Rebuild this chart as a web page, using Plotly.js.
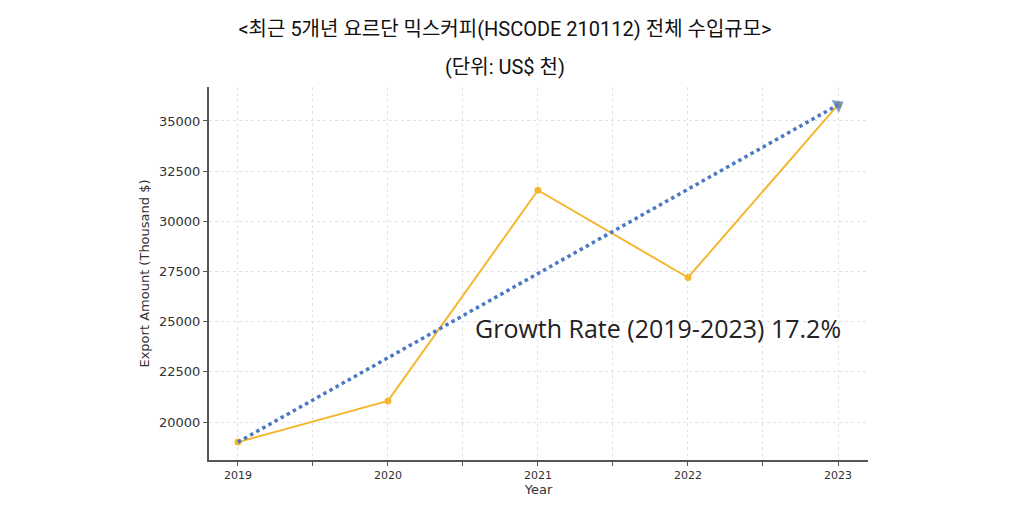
<!DOCTYPE html>
<html>
<head>
<meta charset="utf-8">
<script src="https://cdn.plot.ly/plotly-3.0.1.min.js"></script>
<style>html,body{margin:0;padding:0;background:#fff;}#chart{width:1030px;height:519px;}</style>
</head>
<body>
<div id="chart"></div>
<script>
const years = [2019, 2020, 2021, 2022, 2023];
const values = [19000, 21050, 31550, 27200, 35800];
const trendYears = [2019, 2023];
const trendValues = [19000, 35800];
const yTicks = [20000, 22500, 25000, 27500, 30000, 32500, 35000];
const titleText = '&lt;최근 5개년 요르단 믹스커피(HSCODE 210112) 전체 수입규모&gt;';
const subtitleText = '(단위: US$ 천)';
const growthText = 'Growth Rate (2019-2023) 17.2%';

const traces = [
  {
    x: years, y: values, type: 'scatter', mode: 'lines+markers',
    line: {color: '#f5b731', width: 2},
    marker: {color: '#f5b731', size: 7},
    hoverinfo: 'skip', showlegend: false
  },
  {
    x: trendYears, y: trendValues, type: 'scatter', mode: 'lines+markers',
    line: {color: '#4a78c4', width: 3.5, dash: 'dot'},
    marker: {color: '#4a78c4', size: [0, 13], symbol: 'triangle-up', angleref: 'previous', line: {width: 0}},
    hoverinfo: 'skip', showlegend: false
  }
];

const layout = {
  width: 1030, height: 519,
  margin: {l: 209, r: 162, t: 87, b: 59},
  paper_bgcolor: '#fff', plot_bgcolor: '#fff',
  font: {family: 'DejaVu Sans, sans-serif', color: '#333'},
  title: {
    text: titleText, x: 505/1030, xanchor: 'center', xref: 'container',
    y: 1 - 29/519, yanchor: 'middle', yref: 'container',
    font: {family: 'Roboto, "Noto Sans CJK KR", sans-serif', size: 20, color: '#111'}
  },
  xaxis: {
    range: [2018.807, 2023.2], tickmode: 'array', tickvals: years, ticktext: years.map(String),
    showline: true, linecolor: '#555', linewidth: 2, mirror: false,
    ticks: 'outside', ticklen: 4, tickcolor: '#555', tickwidth: 1,
    tickfont: {size: 11, color: '#333'},
    showgrid: true, gridcolor: '#e2e2e2', griddash: 'dot', gridwidth: 1,
    minor: {tickmode: 'array', tickvals: [2019.5, 2020.5, 2021.5, 2022.5], ticks: 'outside', ticklen: 4, tickcolor: '#555', showgrid: true, gridcolor: '#e2e2e2', griddash: 'dot'},
    zeroline: false,
    title: {text: 'Year', standoff: 2, font: {size: 13, color: '#333'}}
  },
  yaxis: {
    range: [18108, 36693], tickmode: 'array', tickvals: yTicks, ticktext: yTicks.map(String),
    showline: true, linecolor: '#555', linewidth: 2,
    ticks: 'outside', ticklen: 4, tickcolor: '#555', tickwidth: 1,
    tickfont: {size: 13, color: '#333'},
    showgrid: true, gridcolor: '#e2e2e2', griddash: 'dot', gridwidth: 1,
    zeroline: false,
    title: {text: 'Export Amount (Thousand $)', standoff: 6, font: {size: 13, color: '#333'}}
  },
  annotations: [
    {
      text: subtitleText, xref: 'paper', yref: 'paper', x: (505-209)/659, y: 1 + (87-67)/373,
      xanchor: 'center', yanchor: 'middle', showarrow: false,
      font: {family: 'Roboto, "Noto Sans CJK KR", sans-serif', size: 20, color: '#111'}
    },
    {
      text: growthText, xref: 'x', yref: 'y', x: 2020.567, y: 24681,
      xanchor: 'left', yanchor: 'middle', showarrow: false,
      font: {family: '"Open Sans", sans-serif', size: 25, color: '#222'}
    }
  ]
};

Plotly.newPlot('chart', traces, layout, {displayModeBar: false, staticPlot: true});
</script>
</body>
</html>
